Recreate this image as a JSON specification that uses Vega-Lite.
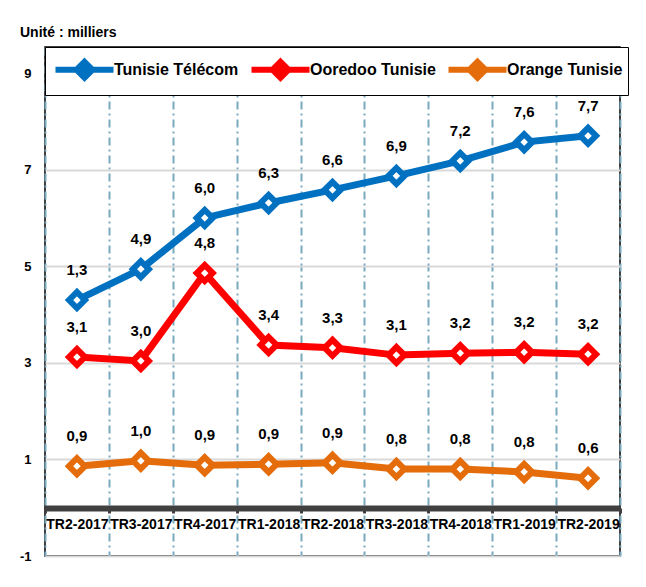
{
  "$schema": "https://vega.github.io/schema/vega-lite/v6.json",
  "width": 575,
  "height": 509,
  "autosize": {"type": "none"},
  "padding": {"left": 45, "top": 47, "right": 26, "bottom": 31},
  "background": "white",
  "title": {"text": "Unité : milliers", "anchor": "start", "frame": "group", "dx": -25, "offset": 7, "fontSize": 14, "font": "Liberation Sans", "fontWeight": "bold", "color": "black"},
  "config": {"view": {"stroke": "black", "strokeWidth": 1.5}, "font": "Liberation Sans"},
  "data": {"values": [
    {"period": "TR2-2017", "operator": "Tunisie Télécom", "value": 4.3, "label": "1,3"},
    {"period": "TR3-2017", "operator": "Tunisie Télécom", "value": 4.94, "label": "4,9"},
    {"period": "TR4-2017", "operator": "Tunisie Télécom", "value": 6.0, "label": "6,0"},
    {"period": "TR1-2018", "operator": "Tunisie Télécom", "value": 6.31, "label": "6,3"},
    {"period": "TR2-2018", "operator": "Tunisie Télécom", "value": 6.58, "label": "6,6"},
    {"period": "TR3-2018", "operator": "Tunisie Télécom", "value": 6.87, "label": "6,9"},
    {"period": "TR4-2018", "operator": "Tunisie Télécom", "value": 7.18, "label": "7,2"},
    {"period": "TR1-2019", "operator": "Tunisie Télécom", "value": 7.57, "label": "7,6"},
    {"period": "TR2-2019", "operator": "Tunisie Télécom", "value": 7.7, "label": "7,7"},
    {"period": "TR2-2017", "operator": "Ooredoo Tunisie", "value": 3.12, "label": "3,1"},
    {"period": "TR3-2017", "operator": "Ooredoo Tunisie", "value": 3.04, "label": "3,0"},
    {"period": "TR4-2017", "operator": "Ooredoo Tunisie", "value": 4.86, "label": "4,8"},
    {"period": "TR1-2018", "operator": "Ooredoo Tunisie", "value": 3.37, "label": "3,4"},
    {"period": "TR2-2018", "operator": "Ooredoo Tunisie", "value": 3.31, "label": "3,3"},
    {"period": "TR3-2018", "operator": "Ooredoo Tunisie", "value": 3.16, "label": "3,1"},
    {"period": "TR4-2018", "operator": "Ooredoo Tunisie", "value": 3.2, "label": "3,2"},
    {"period": "TR1-2019", "operator": "Ooredoo Tunisie", "value": 3.22, "label": "3,2"},
    {"period": "TR2-2019", "operator": "Ooredoo Tunisie", "value": 3.18, "label": "3,2"},
    {"period": "TR2-2017", "operator": "Orange Tunisie", "value": 0.86, "label": "0,9"},
    {"period": "TR3-2017", "operator": "Orange Tunisie", "value": 0.97, "label": "1,0"},
    {"period": "TR4-2017", "operator": "Orange Tunisie", "value": 0.88, "label": "0,9"},
    {"period": "TR1-2018", "operator": "Orange Tunisie", "value": 0.9, "label": "0,9"},
    {"period": "TR2-2018", "operator": "Orange Tunisie", "value": 0.93, "label": "0,9"},
    {"period": "TR3-2018", "operator": "Orange Tunisie", "value": 0.8, "label": "0,8"},
    {"period": "TR4-2018", "operator": "Orange Tunisie", "value": 0.8, "label": "0,8"},
    {"period": "TR1-2019", "operator": "Orange Tunisie", "value": 0.74, "label": "0,8"},
    {"period": "TR2-2019", "operator": "Orange Tunisie", "value": 0.61, "label": "0,6"}
  ]},
  "encoding": {
    "x": {
      "field": "period", "type": "nominal", "sort": null,
      "scale": {"type": "band", "paddingInner": 0, "paddingOuter": 0},
      "axis": {
        "orient": "bottom", "offset": -48, "title": null, "labelAngle": 0,
        "tickBand": "extent", "grid": true, "gridDash": [8, 4, 2, 4], "gridColor": "#78AABD", "gridWidth": 2,
        "domainColor": "#404040", "domainWidth": 6, "tickColor": "#404040", "tickSize": 5, "tickWidth": 3,
        "labelFontWeight": "bold", "labelFontSize": 14, "labelPadding": 4, "labelColor": "black", "labelFont": "Liberation Sans"
      }
    },
    "y": {
      "field": "value", "type": "quantitative",
      "scale": {"domain": [-1, 9.54], "nice": false, "zero": false},
      "axis": {
        "values": [-1, 1, 3, 5, 7, 9], "title": null, "grid": true, "gridColor": "#D9D9D9", "gridWidth": 2,
        "domain": false, "ticks": false, "labelFontWeight": "bold", "labelFontSize": 13, "labelPadding": 14,
        "labelColor": "black", "labelFont": "Liberation Sans", "labelExpr": "replace(datum.label, '−', '-')"
      }
    },
    "color": {
      "field": "operator", "type": "nominal",
      "scale": {"domain": ["Tunisie Télécom", "Ooredoo Tunisie", "Orange Tunisie"], "range": ["#0070C0", "#FF0000", "#E46C0A"]},
      "legend": {
        "orient": "none", "legendX": 0, "legendY": 0, "direction": "horizontal", "title": null,
        "strokeColor": "black", "fillColor": "white", "padding": 5, "columnPadding": 0,
        "symbolType": "M-2,0H2M0,-0.55L0.55,0L0,0.55L-0.55,0Z", "symbolSize": 841, "symbolStrokeWidth": 6,
        "symbolOffset": 17, "labelOffset": 12,
        "labelFontSize": 16, "labelFontWeight": "bold", "labelFont": "Liberation Sans", "labelColor": "black",
        "encode": {"symbols": {"update": {"fill": {"scale": "color", "field": "value"}, "opacity": {"value": 1}}}}
      }
    }
  },
  "layer": [
    {"mark": {"type": "line", "strokeWidth": 7}},
    {"mark": {"type": "point", "shape": "diamond", "filled": false, "fill": "white", "size": 256, "strokeWidth": 6, "opacity": 1}},
    {"mark": {"type": "text", "dy": -30, "fontSize": 15, "fontWeight": "bold", "font": "Liberation Sans"},
     "encoding": {"text": {"field": "label"}, "color": {"value": "black"}}}
  ]
}
